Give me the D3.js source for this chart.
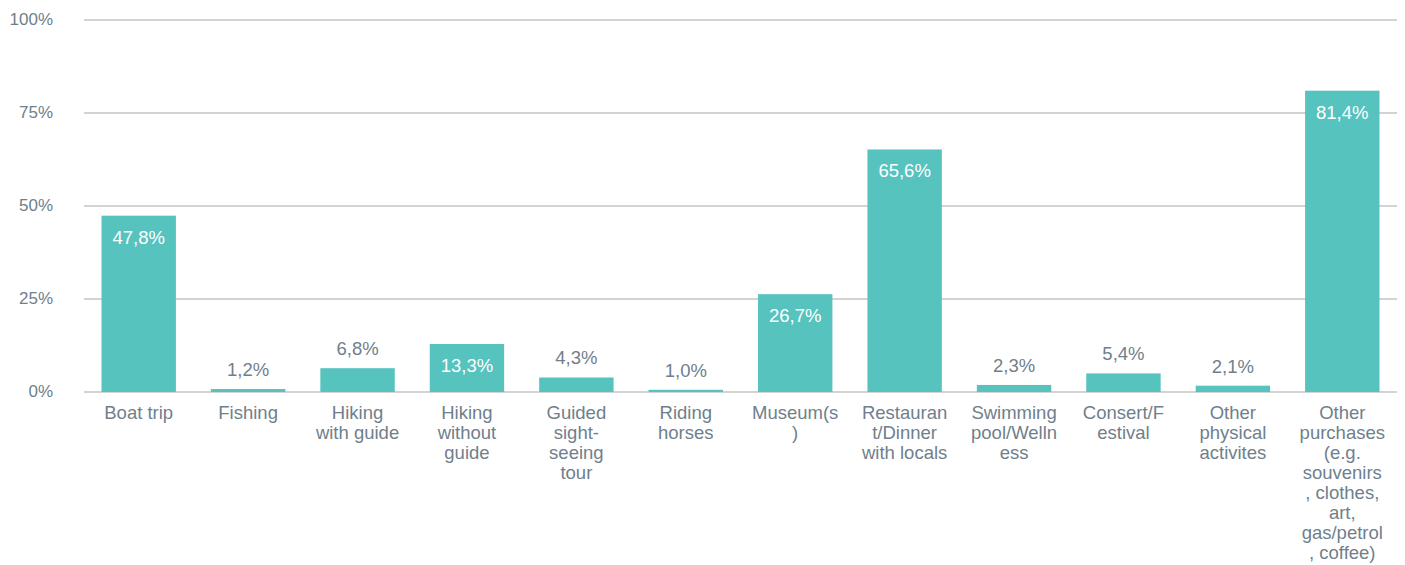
<!DOCTYPE html>
<html>
<head>
<meta charset="utf-8">
<script src="https://cdn.jsdelivr.net/npm/d3@7"></script>
<style>
  body { margin: 0; background: #fff; }
  text { font-family: "Liberation Sans", Arial, sans-serif; }
</style>
</head>
<body>
<script>
// categories, each already split into the lines shown under the bars
var categories = [
    ["Boat trip"],
    ["Fishing"],
    ["Hiking", "with guide"],
    ["Hiking", "without", "guide"],
    ["Guided", "sight-", "seeing", "tour"],
    ["Riding", "horses"],
    ["Museum(s", ")"],
    ["Restauran", "t/Dinner", "with locals"],
    ["Swimming", "pool/Welln", "ess"],
    ["Consert/F", "estival"],
    ["Other", "physical", "activites"],
    ["Other", "purchases", "(e.g.", "souvenirs", ", clothes,", "art,", "gas/petrol", ", coffee)"]
];
var values = [47.8, 1.2, 6.8, 13.3, 4.3, 1.0, 26.7, 65.6, 2.3, 5.4, 2.1, 81.4];
var yTicks = [0, 25, 50, 75, 100];

var width = 1405, height = 565;
var barColor = "#56c3bf", textColor = "#6f808c", gridColor = "#d3d3d3";

var svg = d3.select("body").append("svg")
    .attr("width", width)
    .attr("height", height);

var xScale = d3.scaleBand()
    .domain(d3.range(categories.length))
    .range([84, 1397])
    .paddingInner(0.32)
    .paddingOuter(0.16);
var yScale = d3.scaleLinear().domain([0, 100]).range([392, 20]);

// gridlines
svg.append("g").selectAll("line")
    .data(yTicks)
    .enter()
    .append("line")
    .attr("x1", 84).attr("x2", 1397)
    .attr("y1", function(d){ return yScale(d); })
    .attr("y2", function(d){ return yScale(d); })
    .attr("stroke", gridColor)
    .attr("stroke-width", 2);

// y labels
svg.append("g").selectAll("text")
    .data(yTicks)
    .enter()
    .append("text")
    .attr("x", 53)
    .attr("y", function(d){ return yScale(d) - 1; })
    .attr("dy", "0.35em")
    .attr("text-anchor", "end")
    .attr("font-size", 17)
    .attr("fill", textColor)
    .text(function(d){ return d + "%"; });

// bars
svg.append("g").selectAll("rect")
    .data(values)
    .enter()
    .append("rect")
    .attr("x", function(d, i){ return xScale(i); })
    .attr("width", xScale.bandwidth())
    .attr("y", function(d){ return yScale(d) + 1.5; })
    .attr("height", function(d){ return Math.max(0, yScale(0) - yScale(d) - 1.5); })
    .attr("fill", barColor);

// value labels: inside the bar if it is tall enough, otherwise above
function fmt(v){ return v.toFixed(1).replace(".", ",") + "%"; }
svg.append("g").selectAll("text")
    .data(values)
    .enter()
    .append("text")
    .attr("x", function(d, i){ return xScale(i) + xScale.bandwidth() / 2; })
    .attr("y", function(d){ return d >= 10 ? yScale(d) + 23 : yScale(d) - 18; })
    .attr("dy", "0.35em")
    .attr("text-anchor", "middle")
    .attr("font-size", 18.5)
    .attr("fill", function(d){ return d >= 10 ? "#ffffff" : textColor; })
    .text(function(d){ return fmt(d); });

// category labels
var cat = svg.append("g").selectAll("text")
    .data(categories)
    .enter()
    .append("text")
    .attr("text-anchor", "middle")
    .attr("font-size", 18.5)
    .attr("fill", textColor);
cat.selectAll("tspan")
    .data(function(d, i){ return d.map(function(line){ return {line: line, i: i}; }); })
    .enter()
    .append("tspan")
    .attr("x", function(d){ return xScale(d.i) + xScale.bandwidth() / 2; })
    .attr("y", function(d, j){ return 413 + j * 20; })
    .attr("dy", "0.35em")
    .text(function(d){ return d.line; });
</script>
</body>
</html>
